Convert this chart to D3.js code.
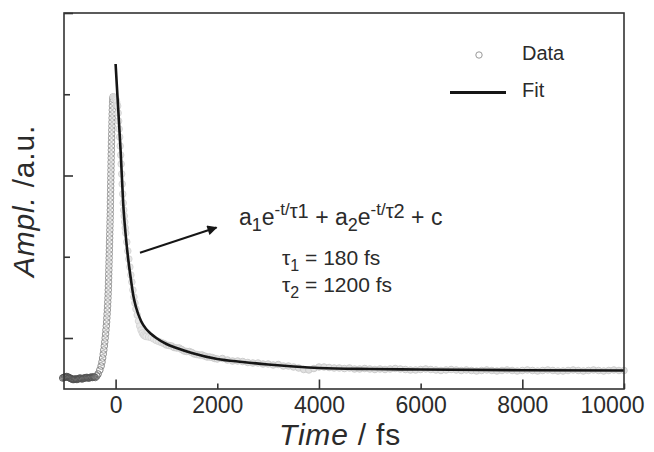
<!DOCTYPE html>
<html><head><meta charset="utf-8">
<script src="https://cdn.jsdelivr.net/npm/d3@7"></script>
<style>
body{margin:0;background:#fff}
svg{display:block}
text{font-family:"Liberation Sans",Arial,Helvetica,sans-serif;fill:#2b2b2b}
</style>
</head><body>
<svg id="chart" width="654" height="452"></svg>
<script>
// ---------- data (amplitude in arbitrary units, time in fs) ----------
const baselineTime = [-1040,-1020,-1000,-980,-960,-940,-920,-900,-880,-860,-840,-820,-800,-780,-760,-740,-720,-700,-680,-660,-640,-620,-600,-580,-560,-540,-520,-500,-480,-460,-440,-420];
const baselineAmp  = [0,0.5,1,1,1.5,1,0.5,0,-0.5,-1,-1.5,-1.5,-1,-1,-1.5,-1,-0.5,0,-0.5,-1,-0.5,0,0,0.5,0.5,0,0,0.5,1,0.5,1,1];

const riseTime = [-400,-370,-345,-310,-285,-268,-255,-243,-232,-222,-213,-205,-197,-190,-183,-177,-172,-167,-162,-158,-154,-150,-147,-144,-141,-139,-137,-135,-133,-131,-129,-127,-125,-123,-121,-119,-117,-115,-113,-111,-109,-107,-105,-104,-103,-102,-101,-99,-98,-97,-95,-94,-93,-91,-90,-89,-87,-86,-84,-83,-81,-79,-77,-75,-73,-71,-69,-67,-65,-62,-59,-55,-50];
const riseAmp  = [0.5,2,4,8,12,16,20,24,28,32,36,40,44,48,52,56,60,64,68,72,76,80,84,88,92,96,100,104,108,112,116,120,124,128,132,136,140,144,148,152,156,160,164,168,172,176,180,184,188,192,196,200,204,208,212,216,220,224,228,232,236,240,244,248,252,256,260,264,268,272,276,279,281];

const decayTime = [-40,-30,-20,-10,0,10,20,30,40,50,60,70,80,90,100,110,120,130,140,150,160,170,180,190,200,220,240,260,280,300,320,340,360,380,400,425,450,475,500,525,550,575,600,650,700,750,800,850,900,950,1000];
const decayAmp  = [281,281,280.5,280,279,278,276,273,272,265,257,249,241,232,223,214,204,194,184,175,168,162,156,150,145,136,127,119,111,103,96,88,81,75,69,63,57,52,48,45,43,42,41.5,41,40.5,39,37.5,36.5,35.5,34.5,33];

const tailTime = [1050,1100,1150,1200,1250,1300,1350,1400,1450,1500,1550,1600,1650,1700,1750,1800,1850,1900,1950,2000,
  2100,2200,2300,2400,2500,2600,2700,2800,2900,3000,3100,3200,3300,3400,3500,3600,3700,3800,3900,4000,
  4100,4200,4300,4400,4500,4600,4700,4800,4900,5000,5100,5200,5300,5400,5500,5600,5700,5800,5900,6000,
  6100,6200,6300,6400,6500,6600,6700,6800,6900,7000,7100,7200,7300,7400,7500,7600,7700,7800,7900,8000,
  8100,8200,8300,8400,8500,8600,8700,8800,8900,9000,9100,9200,9300,9400,9500,9600,9700,9800,9900,10000];
const tailAmp  = [32.5,32,30.5,30,30,28.5,27,26.5,26.5,25.5,24,23.5,23,23,22,21,21,20.5,19.5,19,
  19.5,18,17,17,16.5,15.5,15,15,14,14,13,13.5,12,12,11,10,8.5,8,9.5,11,
  11,10.5,10,10,9.5,10,9,9,9.5,9,8.5,9,8.5,9,9.5,9,8.5,8,8,8.5,
  9,8.5,8,7.5,8,8.5,8,7.5,8,7.5,7,7.5,8,7.5,7,7.5,8,7.5,7,7.5,
  8,7.5,7,7.5,8,7.5,7,7,7.5,8,7.5,7,7.5,8,7.5,7,7.5,8,7.5,7.5];

const fitTime = [0,50,100,150,200,250,300,350,400,500,600,700,800,1000,1200,1500,2000,2500,3000,3500,4000,5000,6000,8000,10000];
const fitAmp  = [314,270,226,174,142,118,99,82,71,57,49,44,40,34,30,25,19,16,13.5,11.5,10,9,8.5,7.8,7.5];

const xTickValues = [0,2000,4000,6000,8000,10000];
const xMajorTicks = [0,4000,8000];
const yTickValues = [40,121.25,202.5,283.75,365];
const yMajorTicks = [40,202.5,365];

const legendLabels = ["Data","Fit"];
const tau1Label = "180 fs";
const tau2Label = "1200 fs";

// ---------- layout ----------
const svg = d3.select("#chart");
const L = 64, R = 624, T = 13, B = 389;
const x = d3.scaleLinear().domain([-1015, 10000]).range([L, R]);
const y = d3.scaleLinear().domain([-11, 365]).range([B, T]);

const data = [];
[[baselineTime, baselineAmp],[riseTime, riseAmp],[decayTime, decayAmp],[tailTime, tailAmp]].forEach(([ts, as]) => {
  ts.forEach((t, i) => data.push({t, a: as[i]}));
});
const fit = fitTime.map((t, i) => ({t, a: fitAmp[i]}));

const strokeCol = d3.scaleLinear()
  .domain([-1040, -420, -250, -50, -40, 900, 1000])
  .range(["#4d4d4d", "#555555", "#8a8a8a", "#9a9a9a", "#d4d4d4", "#d4d4d4", "#c8c8c8"])
  .clamp(true);

// data circles
svg.append("g").selectAll("circle").data(data).join("circle")
  .attr("cx", d => x(d.t))
  .attr("cy", d => y(d.a))
  .attr("r", 3.3)
  .attr("fill", d => d.t >= -40 ? (d.t < 900 ? "#e8e8e8" : "#e0e0e0") : "none")
  .attr("stroke", d => strokeCol(d.t))
  .attr("stroke-width", 0.9);

// fit line
svg.append("path").datum(fit)
  .attr("fill", "none")
  .attr("stroke", "#161616")
  .attr("stroke-width", 2.6)
  .attr("d", d3.line().x(d => x(d.t)).y(d => y(d.a)).curve(d3.curveMonotoneX));

// frame
svg.append("rect").attr("x", L).attr("y", T).attr("width", R - L).attr("height", B - T)
  .attr("fill", "none").attr("stroke", "#333").attr("stroke-width", 1.6);

// x axis (inward ticks)
const xAxis = svg.append("g").attr("transform", `translate(0,${B})`)
  .call(d3.axisBottom(x).tickValues(xTickValues).tickSizeInner(-9.5).tickSizeOuter(0).tickFormat(d3.format("d")));
xAxis.select(".domain").remove();
xAxis.selectAll(".tick line").attr("stroke", "#333").attr("stroke-width", 1.6)
  .attr("y2", d => xMajorTicks.includes(d) ? -9.5 : -5.5);
xAxis.selectAll(".tick text").attr("y", 24).attr("dy", 0)
  .style("font-size", "23px").attr("fill", "#2b2b2b");
// last label sits flush against the right edge, as in the reference
xAxis.selectAll(".tick text").filter(d => d === xTickValues[xTickValues.length - 1])
  .attr("text-anchor", "end").attr("x", 20);

// y axis (inward ticks, no labels)
const yAxis = svg.append("g").attr("transform", `translate(${L},0)`)
  .call(d3.axisLeft(y).tickValues(yTickValues).tickSizeInner(-9).tickSizeOuter(0).tickFormat(""));
yAxis.select(".domain").remove();
yAxis.selectAll(".tick line").attr("stroke", "#333").attr("stroke-width", 1.6)
  .attr("x2", d => yMajorTicks.includes(d) ? 9 : 6);

// axis titles
const xt = svg.append("text").attr("x", 340).attr("y", 445).attr("text-anchor", "middle")
  .style("font-size", "30px").style("letter-spacing", "0.8px");
xt.append("tspan").style("font-style", "italic").text("Time");
xt.append("tspan").text(" / fs");

const yt = svg.append("text").attr("transform", "translate(34,201) rotate(-90)").attr("text-anchor", "middle")
  .style("font-size", "30px").style("letter-spacing", "0.8px");
yt.append("tspan").style("font-style", "italic").text("Ampl.");
yt.append("tspan").text(" /a.u.");

// legend
svg.append("circle").attr("cx", 479).attr("cy", 55).attr("r", 3.2).attr("fill", "none").attr("stroke", "#999").attr("stroke-width", 1);
svg.append("line").attr("x1", 450).attr("x2", 506).attr("y1", 92.5).attr("y2", 92.5).attr("stroke", "#161616").attr("stroke-width", 3);
svg.append("text").attr("x", 522).attr("y", 60).style("font-size", "20px").text(legendLabels[0]);
svg.append("text").attr("x", 522).attr("y", 97).style("font-size", "20px").text(legendLabels[1]);

// arrow
const defs = svg.append("defs");
defs.append("marker").attr("id", "ah").attr("viewBox", "0 0 10 10").attr("refX", 9).attr("refY", 5)
  .attr("markerWidth", 6).attr("markerHeight", 5).attr("markerUnits", "strokeWidth").attr("orient", "auto")
  .append("path").attr("d", "M0,0 L10,5 L0,10 Z").attr("fill", "#161616");
svg.append("line").attr("x1", 140).attr("y1", 252.7).attr("x2", 216.5).attr("y2", 227.5)
  .attr("stroke", "#161616").attr("stroke-width", 2).attr("marker-end", "url(#ah)");

// formula
const f = svg.append("text").attr("x", 239).attr("y", 225).style("font-size", "23px");
f.append("tspan").text("a");
f.append("tspan").attr("dy", 6).style("font-size", "18px").text("1");
f.append("tspan").attr("dy", -6).text("e");
f.append("tspan").attr("dy", -10).style("font-size", "17px").text("-t/");
f.append("tspan").attr("dy", 3).style("font-size", "20px").text("τ1");
f.append("tspan").attr("dy", 7).text(" + a");
f.append("tspan").attr("dy", 6).style("font-size", "18px").text("2");
f.append("tspan").attr("dy", -6).text("e");
f.append("tspan").attr("dy", -10).style("font-size", "17px").text("-t/");
f.append("tspan").attr("dy", 3).style("font-size", "20px").text("τ2");
f.append("tspan").attr("dy", 7).text(" + c");

const t1 = svg.append("text").attr("x", 282).attr("y", 265).style("font-size", "21px");
t1.append("tspan").text("τ");
t1.append("tspan").attr("dy", 6).style("font-size", "16px").text("1");
t1.append("tspan").attr("dy", -6).text(" = " + tau1Label);

const t2 = svg.append("text").attr("x", 282).attr("y", 291.5).style("font-size", "21px");
t2.append("tspan").text("τ");
t2.append("tspan").attr("dy", 6).style("font-size", "16px").text("2");
t2.append("tspan").attr("dy", -6).text(" = " + tau2Label);
</script>
</body></html>
